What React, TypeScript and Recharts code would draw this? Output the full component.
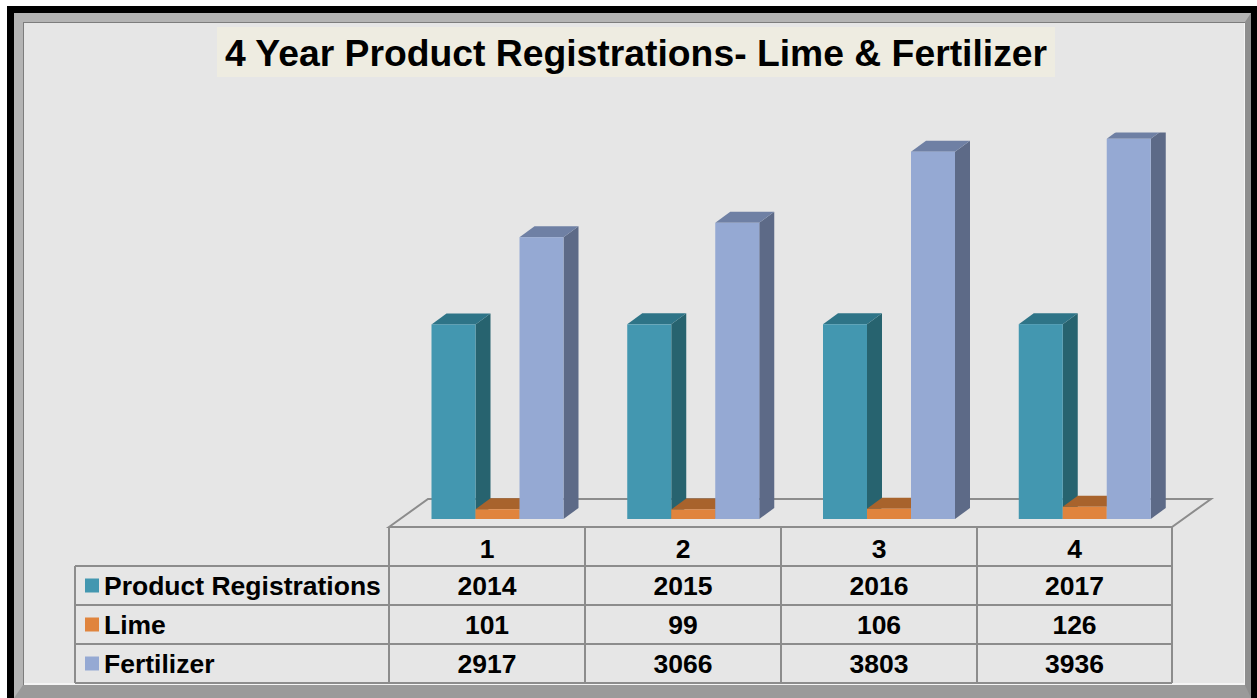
import React from 'react';
import { BarChart, Bar, XAxis, YAxis } from 'recharts';

const categories = ['1', '2', '3', '4'];
const productRegistrations = [2014, 2015, 2016, 2017];
const lime = [101, 99, 106, 126];
const fertilizer = [2917, 3066, 3803, 3936];
const seriesNames = ['Product Registrations', 'Lime', 'Fertilizer'];
const titleText = '4 Year Product Registrations- Lime & Fertilizer';

const data = categories.map((c, i) => ({
  cat: c,
  pr: productRegistrations[i],
  lime: lime[i],
  fert: fertilizer[i],
}));

const COLORS = [
  { front: '#4397b0', top: '#2e7487', side: '#27636f' },
  { front: '#e0843d', top: '#a8632c', side: '#8f5224' },
  { front: '#95a9d3', top: '#6f80a4', side: '#5d6a87' },
];

const DX = 15;
const DY = 11;

function make3D(c: { front: string; top: string; side: string }) {
  return (props: any) => {
    const { x, y, width, height } = props;
    if (x == null || y == null || !width || height == null) return <g />;
    const b = y + height;
    return (
      <g>
        <polygon
          points={`${x + width},${y} ${x + width + DX},${y - DY} ${x + width + DX},${b - DY} ${x + width},${b}`}
          fill={c.side}
        />
        <polygon
          points={`${x},${y} ${x + DX},${y - DY} ${x + width + DX},${y - DY} ${x + width},${y}`}
          fill={c.top}
        />
        <rect x={x} y={y} width={width} height={height} fill={c.front} />
      </g>
    );
  };
}

const FONT = '"Liberation Sans", Arial, Helvetica, sans-serif';
const GRID = '#8c8c8c';

const colX = [389, 585, 781, 977, 1172];
const rowY = [527, 566, 605, 644, 683];
const legendLeft = 75;

function Table() {
  const rows = [productRegistrations, lime, fertilizer];
  const lines: React.ReactNode[] = [];
  lines.push(<line key="h0" x1={colX[0]} y1={rowY[0]} x2={colX[4]} y2={rowY[0]} />);
  for (let r = 1; r < rowY.length; r++) {
    lines.push(<line key={'h' + r} x1={legendLeft} y1={rowY[r]} x2={colX[4]} y2={rowY[r]} />);
  }
  colX.forEach((x, i) =>
    lines.push(<line key={'v' + i} x1={x} y1={rowY[0]} x2={x} y2={rowY[4]} />)
  );
  lines.push(<line key="vl" x1={legendLeft} y1={rowY[1]} x2={legendLeft} y2={rowY[4]} />);
  return (
    <svg width={1257} height={698} style={{ position: 'absolute', left: 0, top: 0 }}>
      <polygon
        points={`${colX[0]},${rowY[0]} ${colX[0] + 39},499 ${colX[4] + 39},499 ${colX[4]},${rowY[0]}`}
        fill="#e6e6e6"
        stroke={GRID}
        strokeWidth={2}
      />
      <g stroke={GRID} strokeWidth={2}>{lines}</g>
      <g fontFamily={FONT} fontWeight="bold" fontSize={26.5} fill="#000">
        {categories.map((c, i) => (
          <text key={'c' + i} x={(colX[i] + colX[i + 1]) / 2} y={(rowY[0] + rowY[1]) / 2 + 11} textAnchor="middle">
            {c}
          </text>
        ))}
        {rows.map((vals, r) =>
          vals.map((v, i) => (
            <text
              key={r + '-' + i}
              x={(colX[i] + colX[i + 1]) / 2}
              y={(rowY[r + 1] + rowY[r + 2]) / 2 + 9}
              textAnchor="middle"
            >
              {v}
            </text>
          ))
        )}
        {seriesNames.map((n, r) => (
          <g key={'l' + r}>
            <rect
              x={85}
              y={(rowY[r + 1] + rowY[r + 2]) / 2 - 7}
              width={14}
              height={14}
              fill={COLORS[r].front}
            />
            <text x={104} y={(rowY[r + 1] + rowY[r + 2]) / 2 + 9}>
              {n}
            </text>
          </g>
        ))}
      </g>
    </svg>
  );
}

export default function App() {
  return (
    <div
      style={{
        position: 'absolute',
        left: 0,
        top: 0,
        width: 1257,
        height: 698,
        overflow: 'hidden',
        background: '#ffffff',
      }}
    >
      <div
        style={{
          position: 'absolute',
          left: 7,
          top: 6,
          width: 1270,
          height: 710,
          background: '#000',
        }}
      />
      <div
        style={{
          position: 'absolute',
          left: 14,
          top: 13,
          width: 1237,
          height: 685,
          boxSizing: 'border-box',
          borderStyle: 'solid',
          borderWidth: '9px 6px 13px 9px',
          borderColor: '#b4b4b4 #8e8e8e #9a9a9a #b4b4b4',
          background: '#e6e6e6',
          boxShadow: 'inset 1px 1px 0 #7d7d7d, inset -1px -2px 0 #f4f4f4',
        }}
      />
      <div
        style={{
          position: 'absolute',
          left: 217,
          top: 27,
          width: 838,
          height: 50,
          background: '#eeece1',
          fontFamily: FONT,
          fontWeight: 'bold',
          fontSize: 37.3,
          lineHeight: '52px',
          textAlign: 'center',
          color: '#000',
          whiteSpace: 'nowrap',
        }}
      >
        {titleText}
      </div>
      <Table />
      <div style={{ position: 'absolute', left: 0, top: 0 }}>
        <BarChart
          width={1257}
          height={698}
          data={data}
          margin={{ top: 132.6, right: 74.5, bottom: 179, left: 399.5 }}
          barCategoryGap={32}
          barGap={0}
        >
          <XAxis dataKey="cat" hide />
          <YAxis hide domain={[0, 4000]} allowDataOverflow />
          <Bar dataKey="pr" name={seriesNames[0]} fill={COLORS[0].front} isAnimationActive={false} shape={make3D(COLORS[0])} />
          <Bar dataKey="lime" name={seriesNames[1]} fill={COLORS[1].front} isAnimationActive={false} shape={make3D(COLORS[1])} />
          <Bar dataKey="fert" name={seriesNames[2]} fill={COLORS[2].front} isAnimationActive={false} shape={make3D(COLORS[2])} />
        </BarChart>
      </div>
    </div>
  );
}
